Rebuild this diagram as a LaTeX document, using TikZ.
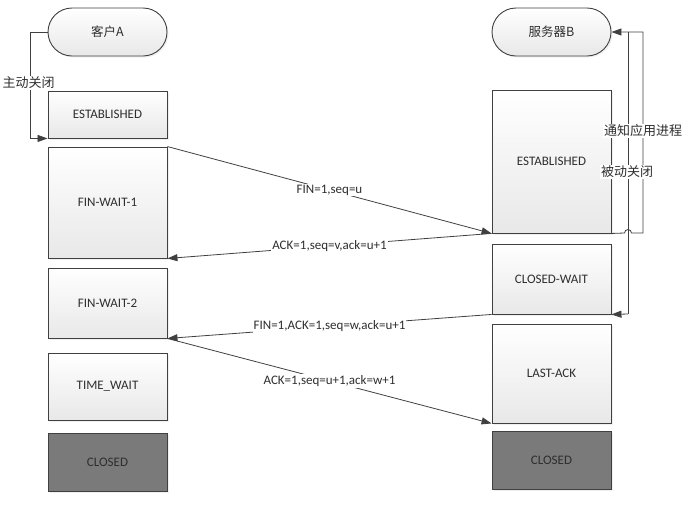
\documentclass[tikz,border=0pt]{standalone}
\usepackage{fontspec}
\setmainfont{Carlito}
\newfontfamily\cjk{Noto Sans CJK SC}
\usetikzlibrary{arrows.meta,shadows}
\definecolor{edge}{HTML}{404040}
\definecolor{txt}{HTML}{2E2E2E}
\definecolor{darkfill}{HTML}{7A7A7A}
\begin{document}
\begin{tikzpicture}[x=1pt,y=-1pt,
  state/.style={draw=edge, line width=0.9pt, top color=white, bottom color=black!9,
    minimum width=119pt, text=txt, font=\fontsize{13}{15}\selectfont, inner sep=0pt,
    drop shadow={shadow xshift=1.5pt,shadow yshift=-1.5pt,fill=black!12}},
  closedbox/.style={state, top color=darkfill, bottom color=darkfill},
  pill/.style={state, rounded corners=24pt, minimum height=48pt, font=\cjk\fontsize{12.5}{15}\selectfont},
  conn/.style={draw=edge, line width=0.8pt},
  arr/.style={conn, -{Triangle[length=10pt,width=7pt]}},
  msg/.style={fill=white, inner sep=1pt, text=txt, font=\fontsize{13}{15}\selectfont},
  cjklabel/.style={fill=white, inner sep=1pt, text=txt, font=\cjk\fontsize{13}{15}\selectfont}]
\useasboundingbox (0,0) rectangle (693,504);

% client column
\node[pill] (pa) at (107.5,32) {客户A};
\node[state, minimum height=47pt] (aest) at (107.5,114.5) {ESTABLISHED};
\node[state, minimum height=111pt] (afw1) at (107.5,202.5) {FIN-WAIT-1};
\node[state, minimum height=70pt] (afw2) at (107.5,303) {FIN-WAIT-2};
\node[state, minimum height=67pt] (atw) at (107.5,386.5) {TIME\_WAIT};
\node[closedbox, minimum height=58pt] (acl) at (107.5,462) {CLOSED};

% server column
\node[pill] (pb) at (551.5,32) {服务器B};
\node[state, minimum height=143pt] (best) at (551.5,161.5) {ESTABLISHED};
\node[state, minimum height=70pt] (bcw) at (551.5,279) {CLOSED-WAIT};
\node[state, minimum height=99pt] (bla) at (551.5,373.5) {LAST-ACK};
\node[closedbox, minimum height=58pt] (bcl) at (551.5,460) {CLOSED};

% left loop
\coordinate (lA) at (30,32);
\draw[arr] (pa.west) -- (lA) |- (aest.south west);
\node[cjklabel] (l1) at (28.5,83) {主动关闭};

% right loops
\coordinate (hopL) at (624.5,233);
\coordinate (r1b) at (643,233);
\coordinate (r1t) at (643,32);
\coordinate (jn) at (628,32);
\coordinate (r2b) at (628,314);
\draw[conn] (jn) -- (r2b);
\draw[arr] (r2b) -- (bcw.south east);
\draw[arr] (best.south east) -- (hopL) arc[start angle=180,end angle=0,radius=3.5pt] -- (r1b) -- (r1t) -- (pb.east);
\node[cjklabel] (l2) at (643,131) {通知应用进程};
\node[cjklabel] (l3) at (627,172) {被动关闭};

% messages
\draw[arr] (afw1.north east) -- node[msg] (m1) {FIN=1,seq=u} (best.south west);
\draw[arr] (best.south west) -- node[msg] (m2) {ACK=1,seq=v,ack=u+1} (afw1.south east);
\draw[arr] (bcw.south west) -- node[msg] (m3) {FIN=1,ACK=1,seq=w,ack=u+1} (afw2.south east);
\draw[arr] (afw2.south east) -- node[msg] (m4) {ACK=1,seq=u+1,ack=w+1} (bla.south west);
\end{tikzpicture}
\end{document}
